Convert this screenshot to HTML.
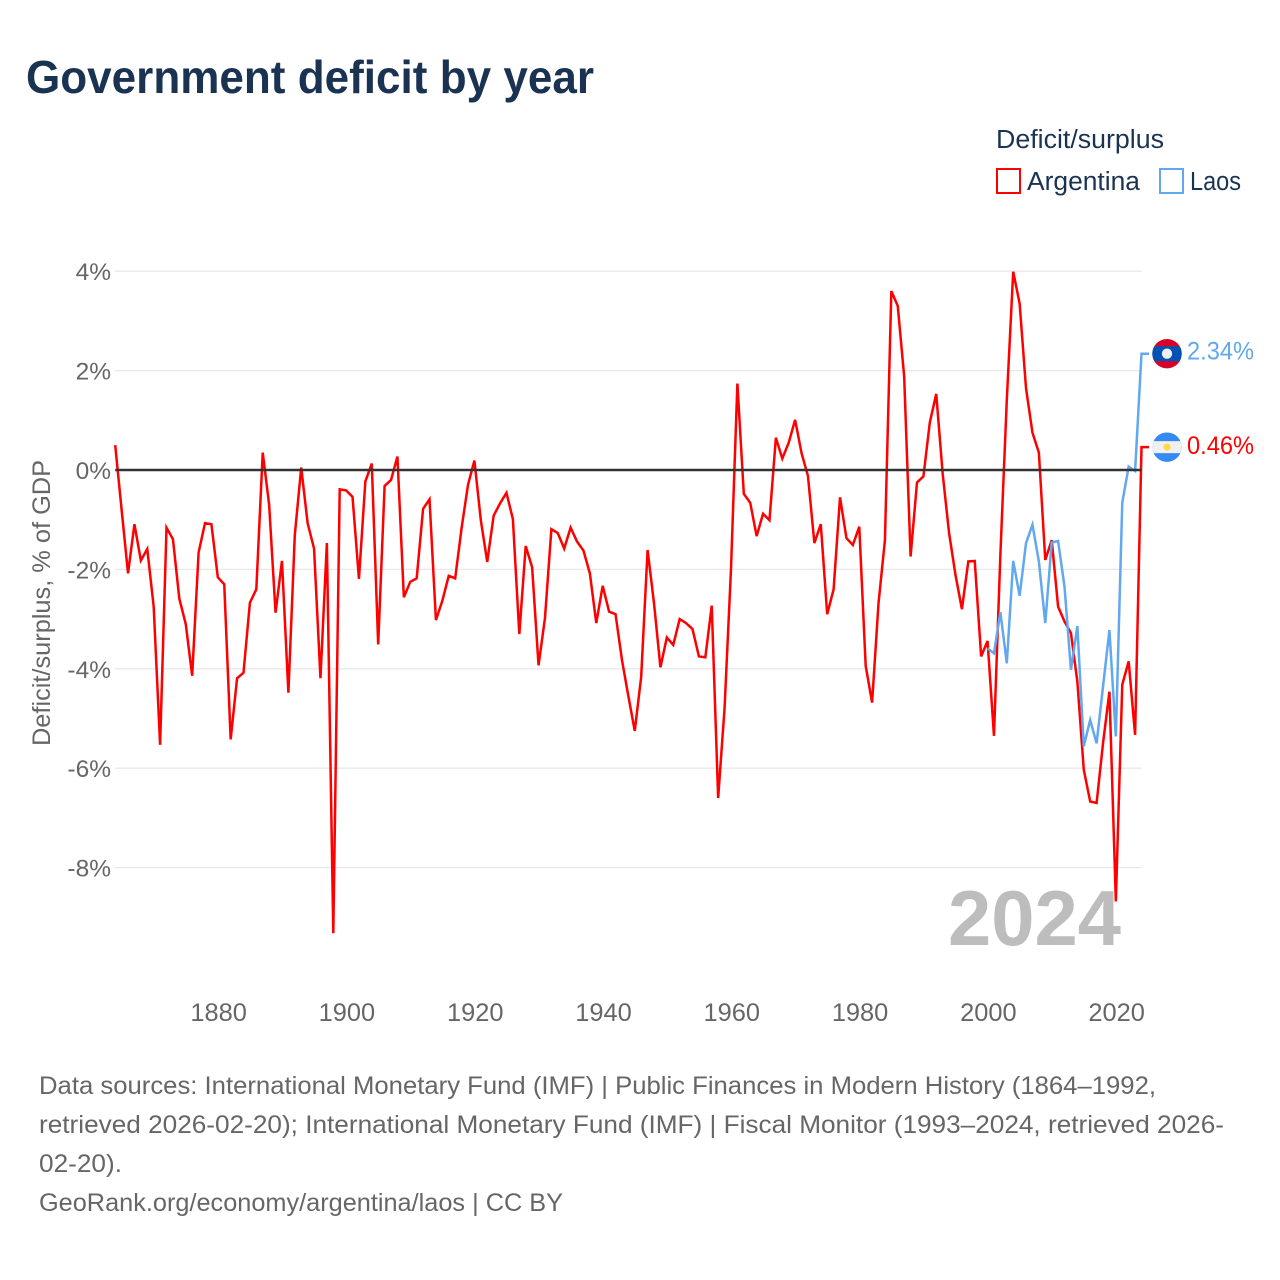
<!DOCTYPE html>
<html lang="en">
<head>
<meta charset="utf-8">
<title>Government deficit by year</title>
<style>
html,body{margin:0;padding:0;background:#fff;}
svg{display:block;font-family:"Liberation Sans",sans-serif;}
</style>
</head>
<body>
<svg id="chart" xmlns="http://www.w3.org/2000/svg" width="1280" height="1280" viewBox="0 0 1280 1280">
  <rect x="0" y="0" width="1280" height="1280" fill="#ffffff"/>
  <text x="26" y="93" font-size="46" font-weight="700" fill="#1a3353" textLength="568" lengthAdjust="spacingAndGlyphs">Government deficit by year</text>

  <g>
    <text x="996" y="148" font-size="25.5" fill="#1a3353" textLength="168" lengthAdjust="spacingAndGlyphs">Deficit/surplus</text>
    <g>
      <rect x="997" y="169" width="23" height="24" fill="none" stroke="#ff0000" stroke-width="2"/>
      <text x="1027" y="190" font-size="25.5" fill="#1a3353" textLength="113" lengthAdjust="spacingAndGlyphs">Argentina</text>
    </g>
    <g>
      <rect x="1160" y="169" width="23" height="24" fill="none" stroke="#62a8ee" stroke-width="2"/>
      <text x="1190" y="190" font-size="25.5" fill="#1a3353" textLength="51" lengthAdjust="spacingAndGlyphs">Laos</text>
    </g>
  </g>

  <g id="grid"></g>
  <g id="yticks"></g>
  <g id="xticks"></g>
  <text transform="translate(50,603) rotate(-90)" text-anchor="middle" font-size="25" fill="#666666" textLength="286" lengthAdjust="spacingAndGlyphs">Deficit/surplus, % of GDP</text>

  <text x="948" y="945" font-size="78" font-weight="700" fill="#bdbdbd" textLength="173" lengthAdjust="spacingAndGlyphs">2024</text>

  <g id="series"></g>
  <line id="zero-line" stroke="#333333" stroke-width="2.6"/>

  <g id="flag-laos">
    <clipPath id="clip-laos"><circle cx="0" cy="0" r="14.7"/></clipPath>
    <g clip-path="url(#clip-laos)">
      <rect x="-15" y="-15" width="30" height="30" fill="#d80027"/>
      <rect x="-15" y="-7.5" width="30" height="15" fill="#0052b4"/>
      <circle cx="0" cy="0" r="5.2" fill="#f0f0f0"/>
    </g>
  </g>
  <g id="flag-argentina">
    <clipPath id="clip-arg"><circle cx="0" cy="0" r="14.7"/></clipPath>
    <g clip-path="url(#clip-arg)">
      <rect x="-15" y="-15" width="30" height="30" fill="#338af3"/>
      <rect x="-15" y="-6" width="30" height="12" fill="#f0f0f0"/>
      <circle cx="0" cy="0" r="3.6" fill="#ffda44"/>
    </g>
  </g>
  <text id="label-laos" x="1187" font-size="25" fill="#62a8ee" textLength="67" lengthAdjust="spacingAndGlyphs"></text>
  <text id="label-argentina" x="1187" font-size="25" fill="#ff0000" textLength="67" lengthAdjust="spacingAndGlyphs"></text>

  <g font-size="25" fill="#666666">
    <text x="39" y="1094" textLength="1117" lengthAdjust="spacingAndGlyphs">Data sources: International Monetary Fund (IMF) | Public Finances in Modern History (1864–1992,</text>
    <text x="39" y="1133" textLength="1185" lengthAdjust="spacingAndGlyphs">retrieved 2026-02-20); International Monetary Fund (IMF) | Fiscal Monitor (1993–2024, retrieved 2026-</text>
    <text x="39" y="1172" textLength="83" lengthAdjust="spacingAndGlyphs">02-20).</text>
    <text x="39" y="1211" textLength="524" lengthAdjust="spacingAndGlyphs">GeoRank.org/economy/argentina/laos | CC BY</text>
  </g>
</svg>

<script>
const argentinaFirstYear = 1864;
const argentinaValues = [
  0.50,-0.80,-2.08,-1.09,-1.82,-1.59,-2.75,-5.53,-1.16,-1.39,-2.59,-3.10,-4.14,-1.66,-1.07,-1.09,
  -2.16,-2.30,-5.42,-4.19,-4.08,-2.67,-2.40,0.35,-0.70,-2.87,-1.83,-4.48,-1.31,0.05,-1.07,-1.58,-4.19,-1.47,-9.32,-0.39,
  -0.41,-0.54,-2.19,-0.23,0.13,-3.51,-0.32,-0.20,0.27,-2.56,-2.25,-2.18,-0.78,-0.59,-3.02,-2.63,-2.13,-2.18,-1.17,-0.30,
  0.19,-1.01,-1.85,-0.92,-0.67,-0.46,-0.99,-3.30,-1.53,-1.96,-3.93,-2.98,-1.19,-1.27,-1.58,-1.16,-1.44,-1.62,-2.08,-3.08,
  -2.33,-2.85,-2.90,-3.82,-4.55,-5.25,-4.16,-1.61,-2.68,-3.97,-3.37,-3.52,-3.00,-3.08,-3.20,-3.75,-3.77,-2.73,-6.60,-4.79,
  -2.00,1.74,-0.48,-0.66,-1.33,-0.88,-1.01,0.65,0.23,0.55,1.01,0.34,-0.12,-1.47,-1.09,-2.90,-2.40,-0.55,-1.37,-1.51,
  -1.14,-3.94,-4.68,-2.68,-1.41,3.60,3.30,1.88,-1.74,-0.25,-0.13,0.96,1.53,-0.07,-1.27,-2.11,-2.80,-1.84,-1.83,-3.75,
  -3.44,-5.35,-1.70,1.41,3.99,3.35,1.64,0.75,0.35,-1.81,-1.41,-2.75,-3.05,-3.28,-4.26,-6.03,-6.67,-6.70,-5.50,-4.46,
  -8.68,-4.32,-3.85,-5.33,0.46
];
const laosFirstYear = 2000;
const laosValues = [
  -3.59,-3.69,-2.86,-3.89,-1.83,-2.53,-1.47,-1.10,-1.84,-3.08,-1.46,-1.43,-2.35,-4.02,-3.14,-5.56,-5.03,-5.50,-4.36,-3.22,
  -5.36,-0.66,0.07,-0.02,2.34
];
const yTickValues = [4, 2, 0, -2, -4, -6, -8];
const yTickLabels = ['4%', '2%', '0%', '-2%', '-4%', '-6%', '-8%'];
const xTickYears = [1880, 1900, 1920, 1940, 1960, 1980, 2000, 2020];
const xTickLabels = ['1880', '1900', '1920', '1940', '1960', '1980', '2000', '2020'];

const NS = 'http://www.w3.org/2000/svg';
const plotLeft = 115.2, plotRight = 1141.5, yearStart = 1864, yearEnd = 2024;
const zeroY = 470, pxPerUnit = 49.7;
const xScale = function (year) { return plotLeft + (year - yearStart) * (plotRight - plotLeft) / (yearEnd - yearStart); };
const yScale = function (v) { return zeroY - v * pxPerUnit; };

function svgEl(tag) { return document.createElementNS(NS, tag); }

const gridGroup = document.getElementById('grid');
const yTickGroup = document.getElementById('yticks');
yTickValues.forEach(function (v, i) {
  const y = yScale(v);
  if (v !== 0) {
    const gl = svgEl('line');
    
    
    gl.setAttribute('x1', plotLeft);
    gl.setAttribute('x2', plotRight);
    gl.setAttribute('y1', y);
    gl.setAttribute('y2', y);
    gl.setAttribute('stroke', '#e8e8e8');
    gl.setAttribute('stroke-width', '1.3');
    gridGroup.appendChild(gl);
  }
  const t = svgEl('text');
  
  
  t.setAttribute('x', 111);
  t.setAttribute('y', y + 9);
  t.setAttribute('text-anchor', 'end');
  t.setAttribute('font-size', '24.5');
  t.setAttribute('fill', '#666666');
  t.textContent = yTickLabels[i];
  yTickGroup.appendChild(t);
});

const xTickGroup = document.getElementById('xticks');
xTickYears.forEach(function (yr, i) {
  const t = svgEl('text');
  
  
  t.setAttribute('x', xScale(yr) + 0.8);
  t.setAttribute('y', 1021);
  t.setAttribute('text-anchor', 'middle');
  t.setAttribute('font-size', '25.4');
  t.setAttribute('fill', '#666666');
  t.textContent = xTickLabels[i];
  xTickGroup.appendChild(t);
});

const zero = document.getElementById('zero-line');
zero.setAttribute('x1', plotLeft);
zero.setAttribute('x2', plotRight);
zero.setAttribute('y1', yScale(0));
zero.setAttribute('y2', yScale(0));

function seriesPoints(firstYear, values) {
  return values.map(function (v, i) { return xScale(firstYear + i).toFixed(2) + ',' + yScale(v).toFixed(2); });
}

const seriesGroup = document.getElementById('series');

const argLine = svgEl('polyline');


const argEndY = yScale(argentinaValues[argentinaValues.length - 1]);
argLine.setAttribute('points', seriesPoints(argentinaFirstYear, argentinaValues).join(' ') + ' 1149,' + argEndY.toFixed(2));
argLine.setAttribute('fill', 'none');
argLine.setAttribute('stroke', '#ff0000');
argLine.setAttribute('stroke-width', '2.5');
seriesGroup.appendChild(argLine);

const laosLine = svgEl('polyline');


const laosEndY = yScale(laosValues[laosValues.length - 1]);
laosLine.setAttribute('points', seriesPoints(laosFirstYear, laosValues).join(' ') + ' 1149,' + laosEndY.toFixed(2));
laosLine.setAttribute('fill', 'none');
laosLine.setAttribute('stroke', '#62a8ee');
laosLine.setAttribute('stroke-width', '2.5');
seriesGroup.appendChild(laosLine);

document.getElementById('flag-laos').setAttribute('transform', 'translate(1167,' + laosEndY.toFixed(2) + ')');
document.getElementById('flag-argentina').setAttribute('transform', 'translate(1167,' + argEndY.toFixed(2) + ')');

const laosLabel = document.getElementById('label-laos');
laosLabel.setAttribute('y', laosEndY + 6);
laosLabel.textContent = laosValues[laosValues.length - 1].toFixed(2) + '%';
const argLabel = document.getElementById('label-argentina');
argLabel.setAttribute('y', argEndY + 7);
argLabel.textContent = argentinaValues[argentinaValues.length - 1].toFixed(2) + '%';
</script>
</body>
</html>
